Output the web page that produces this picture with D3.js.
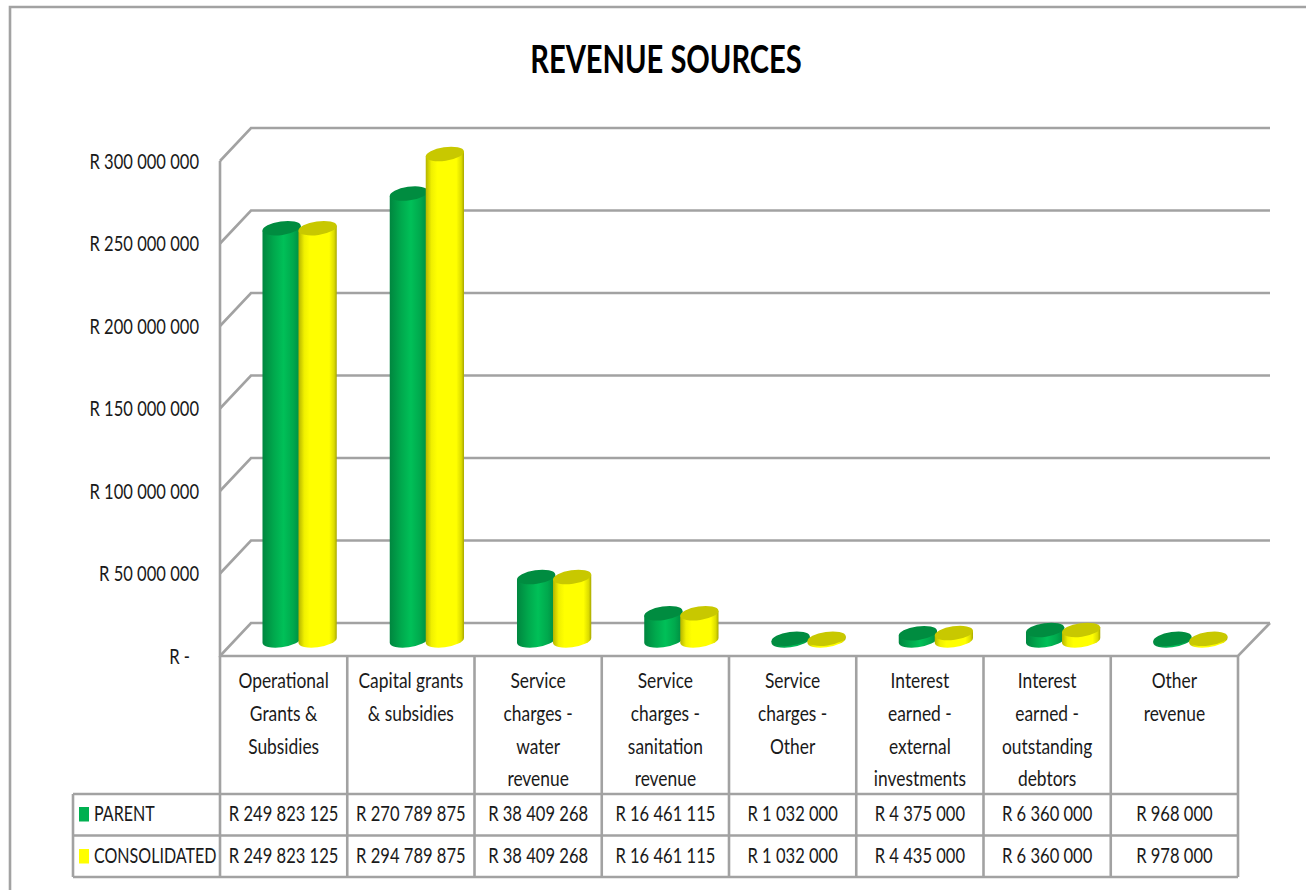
<!DOCTYPE html>
<html>
<head>
<meta charset="utf-8">
<title>Revenue Sources</title>
<script src="https://cdnjs.cloudflare.com/ajax/libs/d3/7.8.5/d3.min.js"></script>
<style>
  html, body { margin: 0; padding: 0; background: #fff; }
  svg { display: block; }
  text { font-family: Lato, "Liberation Sans", sans-serif; fill: #1a1a1a; }
</style>
</head>
<body>
<svg id="chart" width="1306" height="890"></svg>
<script>
// Revenue per source, in rand
const categoryLines = [
  ["Operational", "Grants &", "Subsidies"],
  ["Capital grants", "& subsidies"],
  ["Service", "charges -", "water", "revenue"],
  ["Service", "charges -", "sanitation", "revenue"],
  ["Service", "charges -", "Other"],
  ["Interest", "earned -", "external", "investments"],
  ["Interest", "earned -", "outstanding", "debtors"],
  ["Other", "revenue"]
];
const parentValues = [249823125, 270789875, 38409268, 16461115, 1032000, 4375000, 6360000, 968000];
const consolidatedValues = [249823125, 294789875, 38409268, 16461115, 1032000, 4435000, 6360000, 978000];
const yTicks = [0, 50000000, 100000000, 150000000, 200000000, 250000000, 300000000];
const seriesNames = ["PARENT", "CONSOLIDATED"];

const GRID = "#a2a2a2";
const FONT = 22;
// Horizontal squeezes that give the label face its condensed look
const SQUEEZE_NUM = 0.753, SQUEEZE_CAT = 0.79, SQUEEZE_KEY = 0.73;

const svg = d3.select("#chart");
const randLocale = d3.formatLocale({ decimal: ".", thousands: " ", grouping: [3], currency: ["R ", ""] });
const fmtRand = randLocale.format("$,.0f");

// Plot frame: the front edge of the floor, and the shift from front to back wall
const left = 220, right = 1238, floorY = 656, topY = 161;
const depthX = 31, depthY = -33;

const y = d3.scaleLinear().domain([0, 300000000]).range([floorY, topY]);
const x = d3.scaleBand().domain(d3.range(categoryLines.length)).range([left, right]);

const defs = svg.append("defs");
function cylinderGradient(id, stops) {
  const g = defs.append("linearGradient").attr("id", id)
    .attr("x1", 0).attr("x2", 1).attr("y1", 0).attr("y2", 0);
  stops.forEach(([o, c]) => g.append("stop").attr("offset", o).attr("stop-color", c));
}
cylinderGradient("bodyGreen", [[0, "#00863f"], [0.3, "#00a94d"], [0.55, "#00c058"], [0.8, "#00a94d"], [1, "#008a40"]]);
cylinderGradient("bodyYellow", [[0, "#b4b400"], [0.15, "#f0f000"], [0.3, "#ffff00"], [0.8, "#ffff00"], [0.93, "#dcdc00"], [1, "#a8a800"]]);

const series = [
  { name: seriesNames[0], values: parentValues, body: "url(#bodyGreen)", cap: "#008c40", swatch: "#00b050", offset: -18 },
  { name: seriesNames[1], values: consolidatedValues, body: "url(#bodyYellow)", cap: "#c8c800", swatch: "#ffff00", offset: 18 }
];

// Positions a text element with a condensed squeeze applied around its anchor
function placeText(sel, fx, fy, squeeze) {
  sel.attr("transform", (d, i) => `translate(${fx(d, i)},${fy(d, i)}) scale(${squeeze},1)`);
}

// Back wall and floor grid lines with their diagonals along the left wall
const grid = svg.append("g").attr("fill", "none").attr("stroke", GRID).attr("stroke-width", 2.6);
grid.selectAll("path.grid").data(yTicks).join("path").attr("class", "grid")
  .attr("d", d => `M${left},${y(d)}L${left + depthX},${y(d) + depthY}L${left + depthX + (right - left) + 1},${y(d) + depthY}`);
grid.append("path").attr("d", `M${left},${topY}V${floorY}H${right}L${right + depthX + 1},${floorY + depthY}`);

// Page frame around the chart
svg.append("path").attr("d", "M10,890V7H1306").attr("fill", "none").attr("stroke", GRID).attr("stroke-width", 2.6);

// Title
svg.append("text").attr("text-anchor", "middle")
  .attr("transform", "translate(666,73) scale(0.766,1)")
  .attr("font-size", 38).attr("font-weight", "bold").style("fill", "#000")
  .text("REVENUE SOURCES");

// Value axis
const yAxis = d3.axisLeft(y).tickValues(yTicks).tickSize(0).tickPadding(21 / SQUEEZE_NUM)
  .tickFormat(d => d === 0 ? "R -" : fmtRand(d));
const axisG = svg.append("g").attr("transform", `translate(${left},0)`).call(yAxis);
axisG.select(".domain").remove();
axisG.selectAll("text").attr("font-size", FONT).style("font-family", null)
  .attr("dx", d => d === 0 ? -9 / SQUEEZE_NUM : 0).attr("dy", "0.33em")
  .attr("transform", `scale(${SQUEEZE_NUM},1)`);

// Cylinders: a tilted elliptical base and cap joined by vertical sides
const rx = 19.3, ry = 6.8, tilt = -8;
const baseLift = 15.6;
const th = tilt * Math.PI / 180;
const tExt = Math.atan2(-ry * Math.sin(th), rx * Math.cos(th));
const ex = rx * Math.cos(tExt) * Math.cos(th) - ry * Math.sin(tExt) * Math.sin(th);
const ey = rx * Math.cos(tExt) * Math.sin(th) + ry * Math.sin(tExt) * Math.cos(th);

const groups = svg.selectAll("g.cat").data(categoryLines).join("g").attr("class", "cat")
  .attr("transform", (d, i) => `translate(${x(i) + x.bandwidth() / 2 + 16},0)`);

series.forEach(s => {
  groups.each(function (d, i) {
    const g = d3.select(this);
    const v = s.values[i];
    const y0 = y(0) - baseLift, y1 = y(v) - baseLift, c = s.offset;
    g.append("path").attr("fill", s.body)
      .attr("d", `M${c - ex},${y1 - ey}L${c - ex},${y0 - ey}A${rx},${ry} ${tilt} 0 0 ${c + ex},${y0 + ey}L${c + ex},${y1 + ey}Z`);
    g.append("ellipse").attr("fill", s.cap)
      .attr("rx", rx).attr("ry", ry)
      .attr("transform", `translate(${c},${y1}) rotate(${tilt})`);
  });
});

// Data table beneath the plot
const rowTop = 794, rowA = 835.5, rowB = 877, tableLeft = 73;
const table = svg.append("g").attr("fill", "none").attr("stroke", GRID).attr("stroke-width", 2.6);
const edges = d3.range(categoryLines.length + 1).map(i => i === categoryLines.length ? right : x(i));
table.selectAll("line.col").data(edges).join("line").attr("class", "col")
  .attr("x1", d => d).attr("x2", d => d).attr("y1", floorY).attr("y2", rowB);
table.selectAll("line.row").data([rowTop, rowA, rowB]).join("line").attr("class", "row")
  .attr("x1", tableLeft).attr("x2", right).attr("y1", d => d).attr("y2", d => d);
table.append("line").attr("x1", tableLeft).attr("x2", tableLeft).attr("y1", rowTop).attr("y2", rowB);

// Category names, one line at a time
categoryLines.forEach((lines, i) => {
  const cx = x(i) + x.bandwidth() / 2;
  svg.append("g").selectAll("text").data(lines).join("text")
    .call(placeText, () => cx, (l, k) => 680.5 + k * 32.7, SQUEEZE_CAT)
    .attr("dy", "0.35em").attr("text-anchor", "middle").attr("font-size", FONT)
    .text(l => l);
});

// Value rows with their legend keys
const rowCentres = [813.5, 855.5];
series.forEach((s, r) => {
  const cy = rowCentres[r];
  svg.append("rect").attr("x", 79).attr("y", cy - 6.5).attr("width", 10).attr("height", 14.5).attr("fill", s.swatch);
  svg.append("text").attr("transform", `translate(94,${cy}) scale(${SQUEEZE_KEY},1)`)
    .attr("dy", "0.35em").attr("font-size", FONT).text(s.name);
  svg.append("g").selectAll("text").data(s.values).join("text")
    .call(placeText, (v, i) => x(i) + x.bandwidth() / 2, () => cy, SQUEEZE_NUM)
    .attr("dy", "0.35em").attr("text-anchor", "middle").attr("font-size", FONT)
    .text(v => fmtRand(v));
});
</script>
</body>
</html>
